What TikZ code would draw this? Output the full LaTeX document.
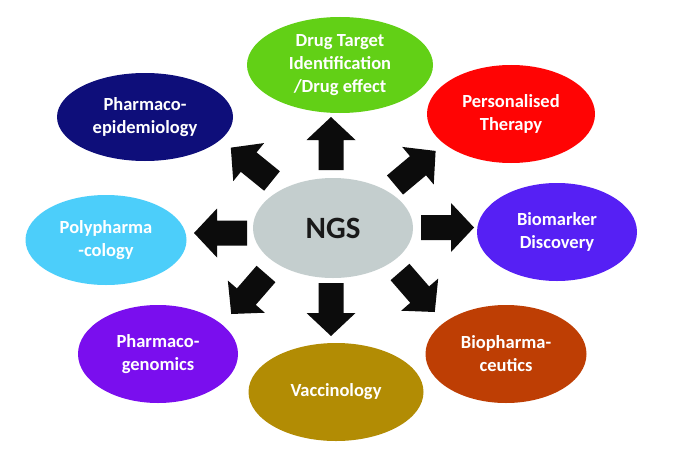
\documentclass[tikz,border=0pt]{standalone}
\usepackage{fontspec}
\setmainfont{Carlito}
\definecolor{cgreen}{RGB}{98,208,22}
\definecolor{cnavy}{RGB}{14,14,122}
\definecolor{cred}{RGB}{255,4,4}
\definecolor{cviolet}{RGB}{86,32,244}
\definecolor{cbrown}{RGB}{190,62,4}
\definecolor{cgold}{RGB}{178,140,4}
\definecolor{cpurple}{RGB}{122,14,238}
\definecolor{csky}{RGB}{76,206,250}
\definecolor{cgray}{RGB}{196,206,206}
\definecolor{carrow}{RGB}{12,12,12}
\tikzset{
  bubble/.style={ellipse, inner sep=0pt, draw=none, text=white, align=center,
    font=\fontsize{18.5}{23}\selectfont\bfseries},
  blockarrow/.pic={\fill[carrow] (0,-12.5) -- (30,-12.5) -- (30,-24.5) -- (53,0) -- (30,24.5) -- (30,12.5) -- (0,12.5) -- cycle;}
}
\usetikzlibrary{shapes.geometric}
\begin{document}
\begin{tikzpicture}[x=1pt,y=1pt]
\useasboundingbox[fill=white] (0,0) rectangle (700,467);
% central node
\node[bubble, fill=cgray, text={black!90}, minimum width=160pt, minimum height=100pt,
  font=\fontsize{31}{36}\selectfont\bfseries] (ngs) at (333,239) {NGS};
% outer nodes
\node[bubble, fill=cgreen, minimum width=186pt, minimum height=96pt] (drug) at (340,402) {Drug Target\\Identification\\/Drug effect};
\node[bubble, fill=cred, minimum width=168pt, minimum height=98pt] (pers) at (511,353) {Personalised\\Therapy};
\node[bubble, fill=cviolet, minimum width=160pt, minimum height=98pt] (bio) at (557,235) {Biomarker\\Discovery};
\node[bubble, fill=cbrown, minimum width=161pt, minimum height=98pt] (biop) at (506,113) {Biopharma-\\ceutics};
\node[bubble, fill=cgold, minimum width=175pt, minimum height=98pt] (vac) at (336,75) {Vaccinology};
\node[bubble, fill=cpurple, minimum width=160pt, minimum height=98pt] (pgen) at (158,113) {Pharmaco-\\genomics};
\node[bubble, fill=csky, minimum width=161pt, minimum height=90pt] (poly) at (106,227) {Polypharma\\-cology};
\node[bubble, fill=cnavy, minimum width=176pt, minimum height=88pt] (epi) at (145,350) {Pharmaco-\\epidemiology};
% block arrows
\coordinate (aup) at (331,297);
\coordinate (adown) at (331,184);
\coordinate (aright) at (421,239.5);
\coordinate (aleft) at (247,234);
\coordinate (aul) at (272,286);
\coordinate (aur) at (395,282);
\coordinate (all) at (266,193);
\coordinate (alr) at (400,195);
\pic[rotate=90] at (aup) {blockarrow};
\pic[rotate=-90] at (adown) {blockarrow};
\pic[rotate=0] at (aright) {blockarrow};
\pic[rotate=180] at (aleft) {blockarrow};
\pic[rotate=141] at (aul) {blockarrow};
\pic[rotate=40] at (aur) {blockarrow};
\pic[rotate=229] at (all) {blockarrow};
\pic[rotate=-49] at (alr) {blockarrow};
\end{tikzpicture}
\end{document}
